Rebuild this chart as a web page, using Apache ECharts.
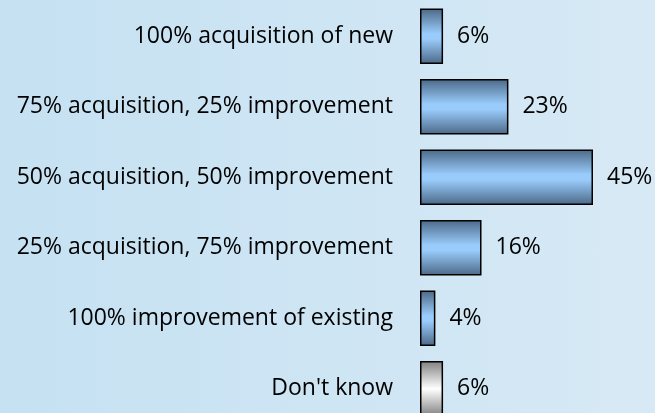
<!DOCTYPE html>
<html>
<head>
<meta charset="utf-8">
<script src="https://cdn.jsdelivr.net/npm/echarts@6/dist/echarts.min.js"></script>
<style>
  html, body { margin: 0; padding: 0; overflow: hidden; }
  #chart { width: 655px; height: 424px; background: linear-gradient(to right, #c5e1f2, #d7e9f5); }
</style>
</head>
<body>
<div id="chart"></div>
<script>
  const categories = [
    '100% acquisition of new',
    '75% acquisition, 25% improvement',
    '50% acquisition, 50% improvement',
    '25% acquisition, 75% improvement',
    '100% improvement of existing',
    "Don't know"
  ];
  const values = [6, 23, 45, 16, 4, 6];

  const blueFill = new echarts.graphic.LinearGradient(0, 0, 0, 1, [
    { offset: 0, color: '#4b6886' },
    { offset: 0.45, color: '#99cbfb' },
    { offset: 0.55, color: '#99cbfb' },
    { offset: 1, color: '#4b6886' }
  ]);
  const grayFill = new echarts.graphic.LinearGradient(0, 0, 0, 1, [
    { offset: 0, color: '#7f7f7f' },
    { offset: 0.5, color: '#ffffff' },
    { offset: 1, color: '#7f7f7f' }
  ]);

  // 45% bar spans 420..593 px
  const xMax = (655 - 420) * 45 / 173;

  const chart = echarts.init(document.getElementById('chart'));
  chart.setOption({
    animation: false,
    grid: { left: 420, right: 0, top: 1, bottom: 0 },
    xAxis: { type: 'value', min: 0, max: xMax, show: false },
    yAxis: {
      type: 'category',
      data: categories,
      inverse: true,
      axisLine: { show: false },
      axisTick: { show: false },
      axisLabel: {
        margin: 27,
        color: '#000',
        fontFamily: 'Open Sans',
        fontSize: 23
      }
    },
    series: [{
      type: 'bar',
      barCategoryGap: '21%',
      data: values.map((v, i) => ({
        value: v,
        itemStyle: { color: i === values.length - 1 ? grayFill : blueFill }
      })),
      itemStyle: { borderColor: '#000', borderWidth: 1.5 },
      label: {
        show: true,
        position: 'right',
        distance: 14,
        formatter: '{c}%',
        color: '#000',
        fontFamily: 'Open Sans',
        fontSize: 23
      }
    }]
  });
</script>
</body>
</html>
